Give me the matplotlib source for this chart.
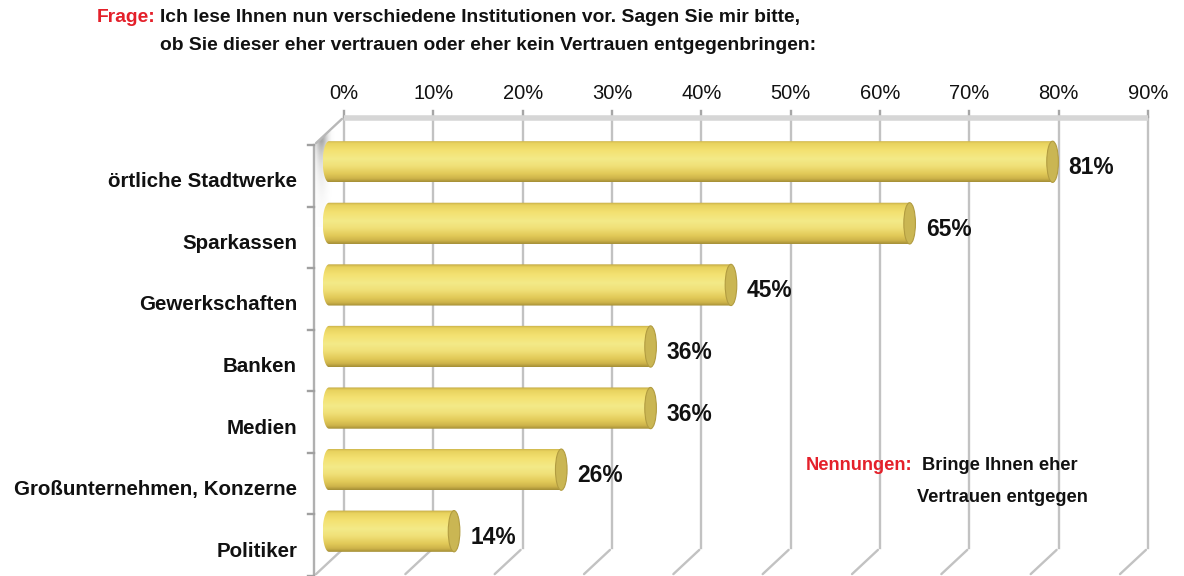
import numpy as np
import matplotlib
matplotlib.use("Agg")
import matplotlib.pyplot as plt
import matplotlib.font_manager as fm
from matplotlib.transforms import ScaledTranslation, IdentityTransform
from matplotlib.colors import LinearSegmentedColormap
from matplotlib.patches import Polygon, Ellipse

# Data
categories = ["örtliche Stadtwerke", "Sparkassen", "Gewerkschaften", "Banken",
              "Medien", "Großunternehmen, Konzerne", "Politiker"]
values = [81, 65, 45, 36, 36, 26, 14]
value_labels = ["81%", "65%", "45%", "36%", "36%", "26%", "14%"]
xticks = [0, 10, 20, 30, 40, 50, 60, 70, 80, 90]
xtick_labels = ["0%", "10%", "20%", "30%", "40%", "50%", "60%", "70%", "80%", "90%"]

# fonts (narrow if we have it, else scale regular down so widths match)
avail = {f.name for f in fm.fontManager.ttflist}
if "Liberation Sans Narrow" in avail:
    NARROW, k = "Liberation Sans Narrow", 1.0
else:
    NARROW, k = "Liberation Sans", 0.82
REG = "Liberation Sans"

W, H = 1184, 576
fig = plt.figure(figsize=(W / 100, H / 100), dpi=100)
fig.patch.set_facecolor("white")

# axes = plane through the middle of the bars, 0% at x=329px, 8.933 px per %
xmin, xmax = -3, 90
ppu = 8.933
x0_px, top_px, bot_px = 329, 131, 562
left_px = x0_px + xmin * ppu
ax = fig.add_axes([left_px / W, 1 - bot_px / H, (xmax - xmin) * ppu / W, (bot_px - top_px) / H])
ax.axis("off")
n = len(categories)
ax.set_xlim(xmin, xmax)
ax.set_ylim(n - 0.5, -0.5)
ypu = (bot_px - top_px) / n


def off(dx, dy):
    # shift in pixels (dy up)
    return ax.transData + ScaledTranslation(dx / 100, dy / 100, fig.dpi_scale_trans)


back = off(15, 14)
front = off(-15, -14)
y0, y1 = -0.5, n - 0.5
grid_c = "#c2c2c2"

# back wall grid, stubs and floor lines
for x in xticks:
    ax.plot([x, x], [y0, y1], color=grid_c, lw=1.7, transform=back, clip_on=False, zorder=1)
    ax.plot([x, x], [y0 - 6 / ypu, y0], color="#a6a6a6", lw=1.7, transform=back,
            clip_on=False, zorder=1)
    ax.annotate("", xy=(x, y1), xycoords=front, xytext=(x, y1), textcoords=back,
                arrowprops=dict(arrowstyle="-", color=grid_c, lw=1.7), zorder=1)

# top edge of the back wall
ax.plot([0, 90], [y0 + 1 / ypu, y0 + 1 / ypu], color="#d6d6d6", lw=4, transform=back,
        clip_on=False, solid_capstyle="butt", zorder=1)

# left wall with a soft shadow near the top
fig.canvas.draw()
pa = front.transform((0, y0))
pb = back.transform((0, y0))
pc = back.transform((0, y1))
pd = front.transform((0, y1))
wall = Polygon([pa, pb, pc, pd], closed=True, transform=IdentityTransform(),
               facecolor="none", edgecolor="none")
fig.add_artist(wall)
rows, cols = 110, 30
rr, cc = np.mgrid[0:rows, 0:cols]
alpha = 0.75 * np.exp(-np.maximum(rr - 25, 0) / 22.0) * np.exp(-((cc - 7) / 6.0) ** 2)
shade = np.zeros((rows, cols, 4))
shade[..., :3] = 0.55
shade[..., 3] = alpha
sh = ax.imshow(shade, extent=(pa[0], pa[0] + cols, pb[1] - rows, pb[1]), transform=IdentityTransform(),
               origin="upper", aspect="auto", zorder=1.5, interpolation="bilinear")
sh.set_clip_path(wall)
ax.set_xlim(xmin, xmax)
ax.set_ylim(n - 0.5, -0.5)

ax.annotate("", xy=(0, y0), xycoords=front, xytext=(0, y0), textcoords=back,
            arrowprops=dict(arrowstyle="-", color="#b8b8b8", lw=1.7), zorder=2)
ax.plot([0, 0], [y0, y1 + 0.3], color="#b0b0b0", lw=1.7, transform=front, clip_on=False, zorder=2)
for b in np.arange(n + 1) - 0.5:
    ax.plot([-6 / ppu, 0], [b, b], color="#a0a0a0", lw=1.7, transform=front,
            clip_on=False, zorder=2)

# cylinders
bar_cmap = LinearSegmentedColormap.from_list("cyl", [
    (0.0, "#c2a844"), (0.07, "#e8d25e"), (0.25, "#f4e272"), (0.45, "#f3ea88"),
    (0.62, "#f0e078"), (0.8, "#e2ca58"), (0.92, "#cdb34a"), (1.0, "#a48e36")])
grad = np.linspace(0, 1, 128)[:, None]
hh = 0.335
rx = 0.7
for i, v in enumerate(values):
    th = np.linspace(np.pi / 2, 3 * np.pi / 2, 40)
    pts = [(rx * np.cos(t), i - hh * np.sin(t)) for t in th]
    pts += [(v, i + hh), (v, i - hh)]
    clip = Polygon(pts, closed=True, transform=ax.transData, facecolor="none", edgecolor="none")
    ax.add_patch(clip)
    body = ax.imshow(grad, cmap=bar_cmap, extent=(-rx, v, i + hh, i - hh),
                     aspect="auto", origin="upper", zorder=3, interpolation="bilinear")
    body.set_clip_path(clip)
    ax.add_patch(Ellipse((v, i), 1.3, 2 * hh, facecolor="#cab653", edgecolor="#b29c40",
                         lw=0.8, zorder=4))
    ax.text(v + 1.8, i, value_labels[i], transform=off(0, -6), ha="left", va="center",
            fontsize=20 * k, fontweight="bold", family=NARROW, color="#111111", zorder=5)

ax.set_xlim(xmin, xmax)
ax.set_ylim(n - 0.5, -0.5)

# x tick labels on top
for x, lab in zip(xticks, xtick_labels):
    ax.text(x, y0, lab, transform=off(15, 14 + 24), ha="center", va="center",
            fontsize=14.5, family=REG, color="#111111")

# category labels
for i, lab in enumerate(categories):
    ax.text(0, i, lab, transform=off(-15 - 17, -14 - 6), ha="right", va="center",
            fontsize=18 * k, fontweight="bold", family=NARROW, color="#111111")


def px(x, y):
    return x / W, 1 - y / H


# question
qs = 16.9 * k
fig.text(*px(97, 18), "Frage:", color="#e4202a", fontsize=qs, fontweight="bold",
         family=NARROW, ha="left", va="center")
fig.text(*px(160, 18), "Ich lese Ihnen nun verschiedene Institutionen vor. Sagen Sie mir bitte,",
         color="#111111", fontsize=qs, fontweight="bold", family=NARROW, ha="left", va="center")
fig.text(*px(160, 46), "ob Sie dieser eher vertrauen oder eher kein Vertrauen entgegenbringen:",
         color="#111111", fontsize=qs, fontweight="bold", family=NARROW, ha="left", va="center")

# note
fig.text(*px(806, 466), "Nennungen:", color="#e4202a", fontsize=16 * k, fontweight="bold",
         family=NARROW, ha="left", va="center")
fig.text(*px(922, 466), "Bringe Ihnen eher", color="#111111", fontsize=16 * k, fontweight="bold",
         family=NARROW, ha="left", va="center")
fig.text(*px(917, 497), "Vertrauen entgegen", color="#111111", fontsize=16 * k, fontweight="bold",
         family=NARROW, ha="left", va="center")

fig.savefig("out.png", dpi=100, facecolor="white")
